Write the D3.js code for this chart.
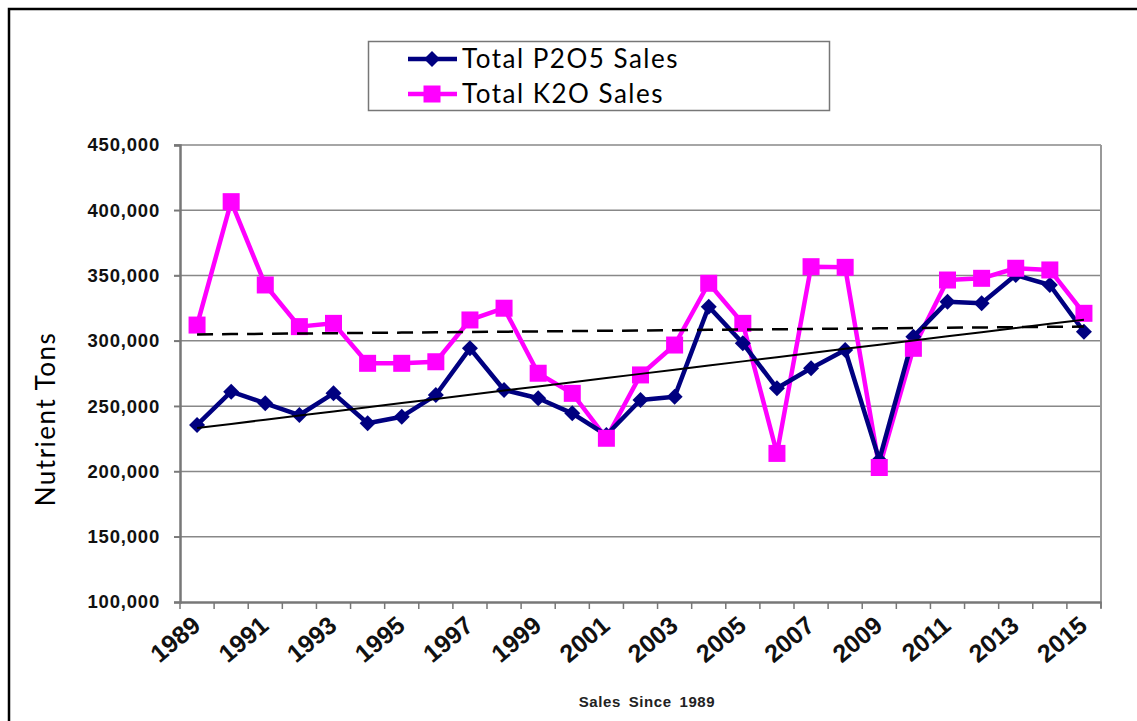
<!DOCTYPE html>
<html>
<head>
<meta charset="utf-8">
<script src="https://cdn.jsdelivr.net/npm/d3@7"></script>
<style>
  body { margin: 0; background: #fff; }
  svg { display: block; }
</style>
</head>
<body>
<svg id="svg" width="1137" height="721"></svg>
<script>
const w = 1137;
const h = 721;

// data
const years = d3.range(1989, 2016);
const p2o5 = [235600, 261100, 252200, 243200, 259800, 236900, 241900, 258500, 294300, 262400,
  256000, 244500, 227900, 254700, 257200, 326200, 298100, 263700, 279000, 293000,
  208800, 303200, 330000, 328800, 350400, 342800, 307000];
const k2o = [312100, 406600, 342800, 310900, 313400, 282800, 282800, 284000, 316000, 325000,
  275200, 259800, 225400, 273900, 296800, 344100, 313400, 213800, 356800, 356300,
  203000, 294300, 346600, 347900, 355600, 354300, 321100];
const yTicks = [100000, 150000, 200000, 250000, 300000, 350000, 400000, 450000];
const xLabels = years.filter((d, i) => i % 2 == 0);
const seriesNames = ["Total P2O5 Sales", "Total K2O Sales"];

const plotL = 180, plotR = 1101, plotT = 145, plotB = 602;

let svg = d3.select("#svg");

let xScale = d3.scaleBand(years, [plotL, plotR]);
let yScale = d3.scaleLinear([100000, 450000], [plotB, plotT]);
let cx = (d) => xScale(d) + xScale.bandwidth() / 2;

// outer frame (left and top only visible)
svg.append("path")
  .attr("d", `M9,${h} V9 H${w}`)
  .attr("fill", "none")
  .attr("stroke", "#000")
  .attr("stroke-width", 2.5);

// gridlines
svg.append("g")
  .selectAll("line")
  .data(yTicks.filter((d) => d > 100000))
  .join("line")
  .attr("x1", plotL - 6)
  .attr("x2", plotR)
  .attr("y1", (d) => yScale(d))
  .attr("y2", (d) => yScale(d))
  .attr("stroke", "#888")
  .attr("stroke-width", 1.5);

// plot border right
svg.append("line")
  .attr("x1", plotR).attr("x2", plotR)
  .attr("y1", plotT).attr("y2", plotB + 6)
  .attr("stroke", "#999")
  .attr("stroke-width", 2);

// y axis
let yAxis = d3.axisLeft(yScale)
  .tickValues(yTicks)
  .tickSize(6)
  .tickPadding(14)
  .tickFormat(d3.format(","));
let gy = svg.append("g").attr("transform", `translate(${plotL},0)`).call(yAxis);
gy.select(".domain").attr("stroke", "#777").attr("stroke-width", 2.5);
gy.selectAll(".tick line").attr("stroke", "#777").attr("stroke-width", 1.5);
gy.selectAll("text")
  .attr("font-family", "'Liberation Sans', Arial, sans-serif")
  .attr("font-weight", "bold")
  .attr("font-size", 18.5)
  .attr("letter-spacing", 0.8)
  .attr("fill", "#111");

// x axis, ticks on category boundaries
let xAxis = d3.axisBottom(xScale).tickSize(0).tickFormat("");
let gx = svg.append("g").attr("transform", `translate(0,${plotB})`).call(xAxis);
gx.select(".domain").attr("stroke", "#777").attr("stroke-width", 2.5);
svg.append("g")
  .selectAll("line")
  .data(years.concat([2016]))
  .join("line")
  .attr("x1", (d) => (d == 2016 ? plotR : xScale(d)))
  .attr("x2", (d) => (d == 2016 ? plotR : xScale(d)))
  .attr("y1", plotB)
  .attr("y2", plotB + 7)
  .attr("stroke", "#777")
  .attr("stroke-width", 1.5);

svg.append("g")
  .selectAll("text")
  .data(xLabels)
  .join("text")
  .attr("transform", (d) => `translate(${cx(d) + 5},${plotB + 26}) rotate(-40)`)
  .attr("text-anchor", "end")
  .attr("font-family", "'Liberation Sans', Arial, sans-serif")
  .attr("font-weight", "bold")
  .attr("font-size", 25)
  .attr("fill", "#111")
  .text((d) => d);

// axis titles
svg.append("text")
  .attr("transform", "translate(55,419) rotate(-90)")
  .attr("text-anchor", "middle")
  .attr("font-family", "'Comic Sans MS', Lato, sans-serif")
  .attr("font-size", 26)
  .attr("letter-spacing", 1.5)
  .attr("fill", "#000")
  .text("Nutrient Tons");

svg.append("text")
  .attr("x", 647)
  .attr("y", 707)
  .attr("text-anchor", "middle")
  .attr("font-family", "'Liberation Sans', Arial, sans-serif")
  .attr("font-weight", "bold")
  .attr("font-size", 15)
  .attr("letter-spacing", 0.6)
  .attr("word-spacing", 3)
  .attr("fill", "#222")
  .text("Sales Since 1989");

// linear trend (least squares) from the data
const trend = (vals) => {
  let xs = d3.range(vals.length);
  let mx = d3.mean(xs), my = d3.mean(vals);
  let b = d3.sum(xs, (x, i) => (x - mx) * (vals[i] - my)) / d3.sum(xs, (x) => (x - mx) ** 2);
  return xs.map((x) => my + b * (x - mx));
};

let lineFunc = d3
  .line()
  .x((d, i) => cx(years[i]))
  .y((d) => yScale(d));

// K2O series
svg.append("path")
  .datum(k2o)
  .attr("fill", "none")
  .attr("stroke", "#ff00ff")
  .attr("stroke-width", 4.5)
  .attr("stroke-linejoin", "round")
  .attr("d", lineFunc);

// P2O5 series
svg.append("path")
  .datum(p2o5)
  .attr("fill", "none")
  .attr("stroke", "#000080")
  .attr("stroke-width", 4.5)
  .attr("stroke-linejoin", "round")
  .attr("d", lineFunc);

svg.append("g")
  .selectAll("path")
  .data(p2o5)
  .join("path")
  .attr("transform", (d, i) => `translate(${cx(years[i])},${yScale(d)})`)
  .attr("d", "M0,-8 L8,0 L0,8 L-8,0 Z")
  .attr("fill", "#000080");

svg.append("g")
  .selectAll("rect")
  .data(k2o)
  .join("rect")
  .attr("x", (d, i) => cx(years[i]) - 8.5)
  .attr("y", (d) => yScale(d) - 8.5)
  .attr("width", 17)
  .attr("height", 17)
  .attr("fill", "#ff00ff");

// trend lines
svg.append("path")
  .datum(trend(k2o))
  .attr("fill", "none")
  .attr("stroke", "#000")
  .attr("stroke-width", 2.5)
  .attr("stroke-dasharray", "16,9")
  .attr("d", lineFunc);

svg.append("path")
  .datum(trend(p2o5))
  .attr("fill", "none")
  .attr("stroke", "#000")
  .attr("stroke-width", 2)
  .attr("d", lineFunc);

// legend
let legend = svg.append("g");
legend.append("rect")
  .attr("x", 368.5).attr("y", 41.5)
  .attr("width", 461).attr("height", 69)
  .attr("fill", "#fff")
  .attr("stroke", "#777")
  .attr("stroke-width", 1.5);

let items = legend.selectAll("g.item")
  .data(seriesNames)
  .join("g")
  .attr("class", "item")
  .attr("transform", (d, i) => `translate(0,${59 + i * 35})`);

items.append("line")
  .attr("x1", 408).attr("x2", 457)
  .attr("stroke", (d, i) => (i == 0 ? "#000080" : "#ff00ff"))
  .attr("stroke-width", 4.5);
items.filter((d, i) => i == 0).append("path")
  .attr("d", "M432,-8 L440,0 L432,8 L424,0 Z")
  .attr("fill", "#000080");
items.filter((d, i) => i == 1).append("rect")
  .attr("x", 423.5).attr("y", -8.5)
  .attr("width", 17).attr("height", 17)
  .attr("fill", "#ff00ff");
items.append("text")
  .attr("x", 462)
  .attr("y", 9)
  .attr("font-family", "'Comic Sans MS', Lato, sans-serif")
  .attr("font-size", 26)
  .attr("letter-spacing", 1.5)
  .attr("fill", "#000")
  .text((d) => d);
</script>
</body>
</html>
